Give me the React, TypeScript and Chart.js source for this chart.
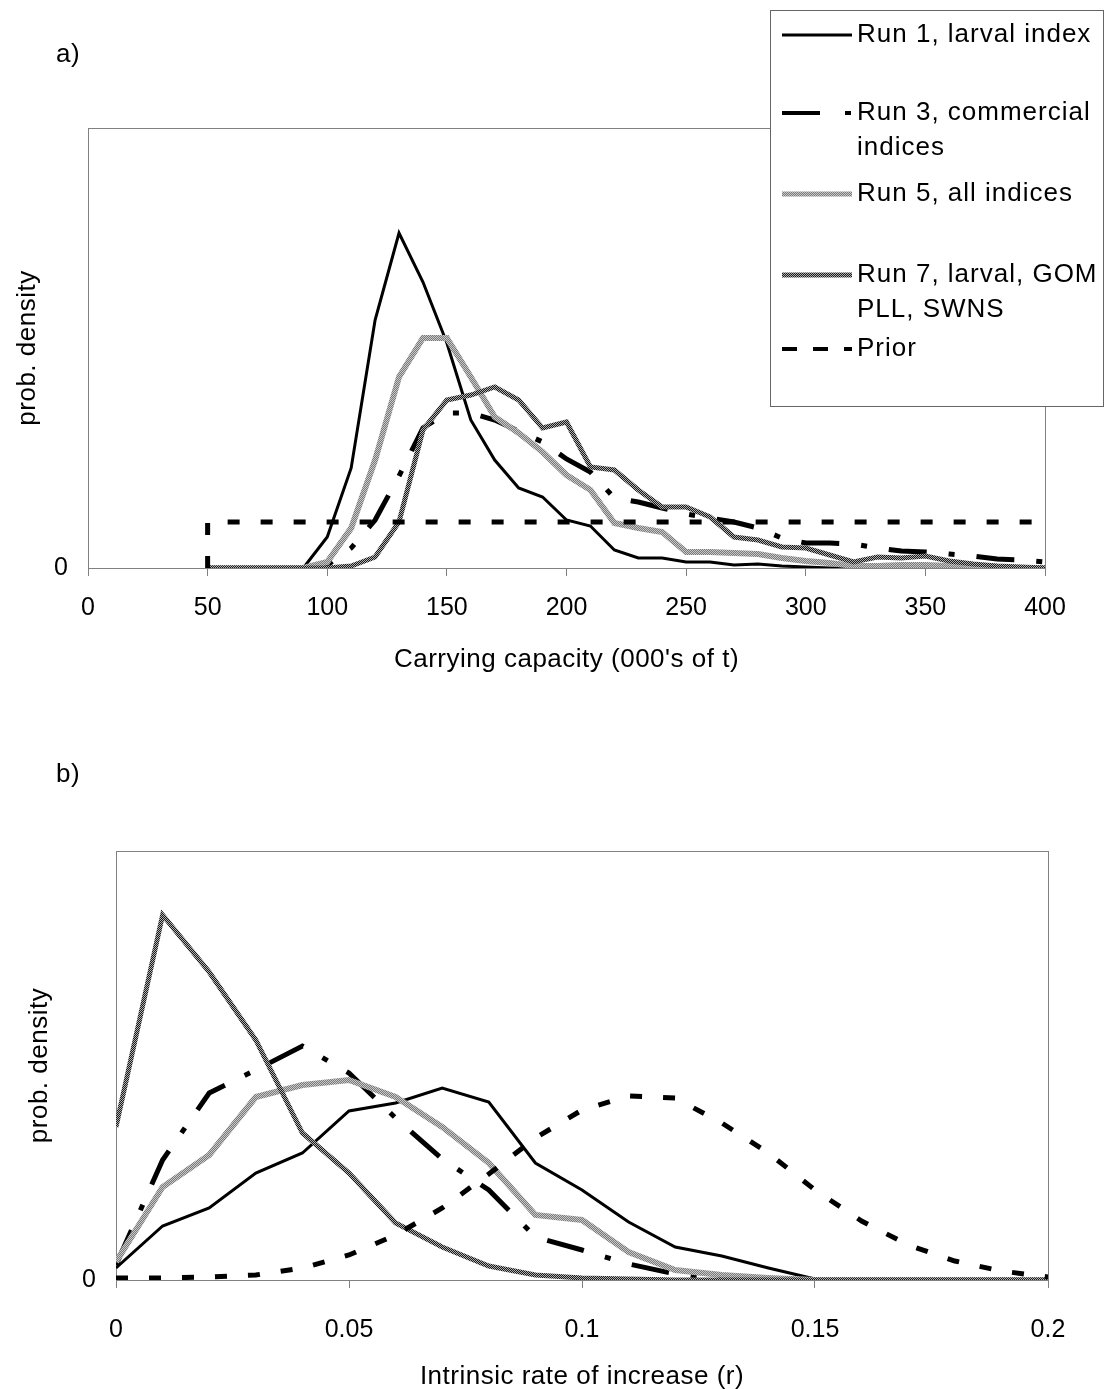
import React, { useEffect, useRef } from 'react';
import { Chart, registerables } from 'chart.js';
Chart.register(...registerables);

const FONT = "'Liberation Sans', Arial, Helvetica, sans-serif";

// ---------- Panel a) : carrying capacity ----------
const capacityX = [50, 60, 70, 80, 90, 100, 110, 120, 130, 140, 150, 160, 170, 180, 190, 200, 210, 220, 230, 240, 250, 260, 270, 280, 290, 300, 310, 320, 330, 340, 350, 360, 370, 380, 390, 400];
const run1A = [0, 0, 0, 0, 0, 31, 100, 248, 335, 286, 225, 148, 108, 80, 71, 48, 42, 18, 10, 10, 6, 6, 3, 4, 2, 1, 0, 0, 0, 0, 0, 0, 0, 0, 0, 0];
const run3A = [0, 0, 0, 0, 0, 3, 20, 48, 92, 140, 155, 155, 148, 137, 126, 109, 96, 70, 66, 60, 54, 50, 46, 40, 30, 25, 25, 24, 20, 17, 16, 14, 12, 9, 8, 6];
const run5A = [0, 0, 0, 0, 0, 6, 40, 108, 191, 230, 230, 191, 151, 135, 116, 93, 78, 45, 40, 36, 16, 16, 15, 14, 10, 7, 5, 2, 2, 3, 3, 2, 0, 0, 0, 0];
const run7A = [0, 0, 0, 0, 0, 0, 2, 11, 46, 138, 168, 173, 181, 168, 140, 146, 101, 98, 78, 61, 61, 51, 31, 28, 21, 20, 13, 6, 11, 10, 12, 7, 4, 2, 1, 0];
const priorAX = [50, 50, 400];
const priorAY = [0, 46, 46];
const xTicksA = ['0', '50', '100', '150', '200', '250', '300', '350', '400'];

// ---------- Panel b) : intrinsic rate of increase ----------
const rX = [0, 0.01, 0.02, 0.03, 0.04, 0.05, 0.06, 0.07, 0.08, 0.09, 0.1, 0.11, 0.12, 0.13, 0.14, 0.15, 0.16, 0.17, 0.18, 0.19, 0.2];
const run1B = [12, 54, 72, 107, 127, 169, 177, 192, 178, 117, 90, 58, 33, 24, 12, 1, 0, 0, 0, 0, 0];
const run3B = [15, 120, 187, 210, 234, 207, 162, 121, 90, 43, 30, 16, 6, 2, 0, 0, 0, 0, 0, 0, 0];
const run5B = [18, 93, 125, 183, 195, 200, 183, 153, 117, 65, 60, 28, 10, 5, 2, 0, 0, 0, 0, 0, 0];
const run7B = [153, 365, 308, 240, 147, 107, 57, 33, 14, 5, 2, 1, 0, 0, 0, 0, 0, 0, 0, 0, 0];
const priorB = [2, 2, 3, 5, 12, 25, 45, 72, 106, 142, 170, 184, 182, 157, 127, 90, 59, 35, 19, 9, 3];
const xTicksB = ['0', '0.05', '0.1', '0.15', '0.2'];

const seriesNames = ['Run 1, larval index', 'Run 3, commercial|indices', 'Run 5, all indices', 'Run 7, larval, GOM|PLL, SWNS', 'Prior'];
const yTitle = 'prob. density';
const xTitleA = "Carrying capacity (000's of t)";
const xTitleB = 'Intrinsic rate of increase (r)';

const pts = (xs: number[], ys: number[]) => xs.map((x, i) => ({ x, y: ys[i] }));

function makePattern(ctx: CanvasRenderingContext2D, a: string, b: string) {
  const cv = document.createElement('canvas');
  cv.width = 2; cv.height = 2;
  const c = cv.getContext('2d')!;
  c.fillStyle = a; c.fillRect(0, 0, 2, 2);
  c.fillStyle = b; c.fillRect(0, 0, 1, 1); c.fillRect(1, 1, 1, 1);
  return ctx.createPattern(cv, 'repeat')!;
}

type Style = { color: any; width: number; dash: number[] };
function getStyles(ctx: CanvasRenderingContext2D): Style[] {
  return [
    { color: '#000000', width: 3, dash: [] },
    { color: '#000000', width: 5, dash: [38, 22, 6, 22] },
    { color: makePattern(ctx, '#7a7a7a', '#c8c8c8'), width: 6, dash: [] },
    { color: makePattern(ctx, '#1a1a1a', '#b0b0b0'), width: 5, dash: [] },
    { color: '#000000', width: 5, dash: [12, 21] },
  ];
}

function ds(label: string, data: any[], st: Style, order: number) {
  return {
    label, data, borderColor: st.color, backgroundColor: st.color, borderWidth: st.width,
    borderDash: st.dash, pointRadius: 0, tension: 0, fill: false, order,
    borderCapStyle: 'butt', borderJoinStyle: 'miter',
  };
}

const framePlugin = {
  id: 'frame',
  beforeDatasetsDraw(chart: any) {
    const { ctx, chartArea: a } = chart;
    ctx.save();
    ctx.strokeStyle = '#808080';
    ctx.lineWidth = 1;
    ctx.setLineDash([]);
    ctx.strokeRect(Math.round(a.left) + 0.5, Math.round(a.top) + 0.5, Math.round(a.right - a.left), Math.round(a.bottom - a.top));
    ctx.restore();
  },
};

// panel letter + axis titles
const textPlugin = (label: string, lx: number, ly: number, xTitle: string, xty: number, ytx: number) => ({
  id: 'texts',
  afterDraw(chart: any) {
    const ctx = chart.ctx;
    const a = chart.chartArea;
    ctx.save();
    ctx.fillStyle = '#000';
    ctx.font = `26px ${FONT}`;
    (ctx as any).letterSpacing = '0.5px';
    ctx.textAlign = 'center';
    ctx.textBaseline = 'middle';
    ctx.fillText(label, lx, ly);
    ctx.fillText(xTitle, (a.left + a.right) / 2, xty);
    ctx.translate(ytx, (a.top + a.bottom) / 2);
    ctx.rotate(-Math.PI / 2);
    ctx.fillText(yTitle, 0, 0);
    ctx.restore();
  },
});

const legendPlugin = (styles: Style[]) => ({
  id: 'boxLegend',
  afterDraw(chart: any) {
    const ctx = chart.ctx;
    ctx.save();
    ctx.fillStyle = '#ffffff';
    ctx.fillRect(770.5, 10.5, 333, 396);
    ctx.strokeStyle = '#666666';
    ctx.lineWidth = 1;
    ctx.setLineDash([]);
    ctx.strokeRect(770.5, 10.5, 333, 396);
    const rows = [35, 113, 194, 275, 349];
    ctx.font = `26px ${FONT}`;
    (ctx as any).letterSpacing = '1px';
    ctx.fillStyle = '#000';
    ctx.textAlign = 'left';
    ctx.textBaseline = 'middle';
    seriesNames.forEach((name, i) => {
      const st = styles[i];
      const y = rows[i];
      ctx.save();
      ctx.strokeStyle = st.color;
      ctx.lineWidth = i === 0 ? 3 : (i === 1 || i === 4 ? 4 : 5);
      ctx.setLineDash(i === 1 ? [38, 25, 6, 30] : i === 4 ? [15, 16] : []);
      ctx.lineCap = 'butt';
      ctx.beginPath();
      ctx.moveTo(782, y);
      ctx.lineTo(852, y);
      ctx.stroke();
      ctx.restore();
      name.split('|').forEach((ln, k) => ctx.fillText(ln, 857, y + k * 35));
    });
    ctx.restore();
  },
});

function useChart(build: (ctx: CanvasRenderingContext2D) => any) {
  const ref = useRef<HTMLCanvasElement>(null);
  useEffect(() => {
    const canvas = ref.current!;
    const ctx = canvas.getContext('2d')!;
    const chart = new Chart(ctx, build(ctx));
    return () => chart.destroy();
  }, []);
  return ref;
}

const tickFont = { family: FONT, size: 25 };

function buildA(ctx: CanvasRenderingContext2D) {
  const st = getStyles(ctx);
  return {
    type: 'line',
    data: {
      datasets: [
        ds(seriesNames[0], pts(capacityX, run1A), st[0], 4),
        ds(seriesNames[1], pts(capacityX, run3A), st[1], 3),
        ds(seriesNames[2], pts(capacityX, run5A), st[2], 2),
        ds(seriesNames[3], pts(capacityX, run7A), st[3], 1),
        ds(seriesNames[4], pts(priorAX, priorAY), st[4], 0),
      ],
    },
    options: {
      animation: false, responsive: false, maintainAspectRatio: false,
      layout: { padding: { left: 0, right: 61, top: 128, bottom: 0 } },
      plugins: { legend: { display: false }, tooltip: { enabled: false } },
      scales: {
        x: {
          type: 'linear', min: 0, max: 400,
          afterFit: (s: any) => { s.height = 132; },
          ticks: { stepSize: 50, font: tickFont, color: '#000', padding: 17, maxRotation: 0,
            callback: (v: any) => xTicksA[Math.round(Number(v) / 50)] ?? '' },
          grid: { drawOnChartArea: false, drawTicks: true, tickLength: 8, color: '#808080' },
          border: { display: false },
          title: { display: false },
        },
        y: {
          type: 'linear', min: 0, max: 440,
          afterFit: (s: any) => { s.width = 88; },
          ticks: { stepSize: 440, font: tickFont, color: '#000', padding: 12, callback: (v: any) => (Number(v) === 0 ? '0' : '') },
          grid: { display: false },
          border: { display: false },
          title: { display: false },
        },
      },
    },
    plugins: [framePlugin, textPlugin('a)', 68, 55, xTitleA, 660, 28), legendPlugin(st)],
  };
}

function buildB(ctx: CanvasRenderingContext2D) {
  const st = getStyles(ctx);
  return {
    type: 'line',
    data: {
      datasets: [
        ds(seriesNames[0], pts(rX, run1B), st[0], 4),
        ds(seriesNames[1], pts(rX, run3B), st[1], 3),
        ds(seriesNames[2], pts(rX, run5B), st[2], 2),
        ds(seriesNames[3], pts(rX, run7B), st[3], 1),
        ds(seriesNames[4], pts(rX, priorB), st[4], 0),
      ],
    },
    options: {
      animation: false, responsive: false, maintainAspectRatio: false,
      layout: { padding: { left: 0, right: 58, top: 151, bottom: 0 } },
      plugins: { legend: { display: false }, tooltip: { enabled: false } },
      scales: {
        x: {
          type: 'linear', min: 0, max: 0.2,
          afterFit: (s: any) => { s.height = 109; },
          ticks: { stepSize: 0.05, font: tickFont, color: '#000', padding: 27, maxRotation: 0,
            callback: (v: any) => xTicksB[Math.round(Number(v) / 0.05)] ?? '' },
          grid: { drawOnChartArea: false, drawTicks: true, tickLength: 8, color: '#808080' },
          border: { display: false },
          title: { display: false },
        },
        y: {
          type: 'linear', min: 0, max: 429,
          afterFit: (s: any) => { s.width = 116; },
          ticks: { stepSize: 429, font: tickFont, color: '#000', padding: 12, callback: (v: any) => (Number(v) === 0 ? '0' : '') },
          grid: { display: false },
          border: { display: false },
          title: { display: false },
        },
      },
    },
    plugins: [framePlugin, textPlugin('b)', 68, 75, xTitleB, 677, 40)],
  };
}

export default function App() {
  const refA = useChart(buildA);
  const refB = useChart(buildB);
  return (
    <div style={{ position: 'absolute', left: 0, top: 0, width: 1106, height: 1389, background: '#fff', overflow: 'hidden' }}>
      <canvas ref={refA} width={1106} height={700} style={{ position: 'absolute', left: 0, top: 0, width: 1106, height: 700 }} />
      <canvas ref={refB} width={1106} height={689} style={{ position: 'absolute', left: 0, top: 700, width: 1106, height: 689 }} />
    </div>
  );
}
